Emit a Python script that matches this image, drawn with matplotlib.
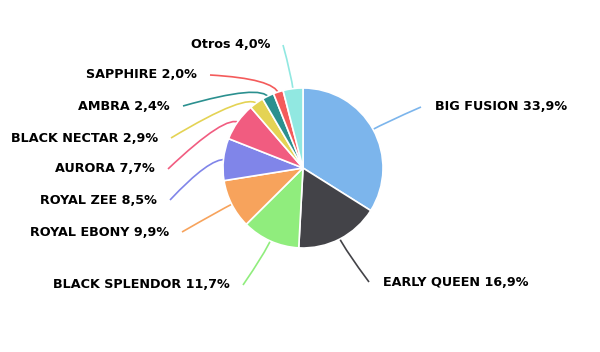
import numpy as np
import matplotlib.pyplot as plt
from matplotlib.path import Path
from matplotlib.patches import PathPatch

labels = ['BIG FUSION', 'EARLY QUEEN', 'BLACK SPLENDOR', 'ROYAL EBONY', 'ROYAL ZEE',
          'AURORA', 'BLACK NECTAR', 'AMBRA', 'SAPPHIRE', 'Otros']
values = [33.9, 16.9, 11.7, 9.9, 8.5, 7.7, 2.9, 2.4, 2.0, 4.0]
colors = ['#7cb5ec', '#434348', '#90ed7d', '#f7a35c', '#8085e9',
          '#f15c80', '#e4d354', '#2b908f', '#f45b5b', '#91e8e1']

# label anchors in pixel coords (x, y from top), side of pie
label_pos = [(435, 107, 'l'), (383, 282, 'l'), (230, 285, 'r'), (169, 232, 'r'),
             (157, 200, 'r'), (155, 169, 'r'), (158, 138, 'r'), (170, 106, 'r'),
             (197, 75, 'r'), (270, 45, 'r')]

W, H = 600, 352
fig = plt.figure(figsize=(6, 3.52), dpi=100)
ax = fig.add_axes([0, 0, 1, 1])
cx, cy, r = 303, H - 168, 80

wedges, _ = ax.pie(values, colors=colors, startangle=90, counterclock=False,
                   center=(cx, cy), radius=r,
                   wedgeprops=dict(edgecolor='white', linewidth=1.2))

for w, lab, v, (lx, ly, side), col in zip(wedges, labels, values, label_pos, colors):
    ang = np.deg2rad((w.theta1 + w.theta2) / 2)
    d = np.array([np.cos(ang), np.sin(ang)])
    edge = np.array([cx, cy]) + d * (r - 2)
    elbow = np.array([cx, cy]) + d * (r + 14)
    y = H - ly
    if side == 'l':
        start = np.array([lx - 14, y])
        ha = 'left'
    else:
        start = np.array([lx + 13, y])
        ha = 'right'
    p = Path([start, elbow, edge], [Path.MOVETO, Path.CURVE3, Path.CURVE3])
    ax.add_patch(PathPatch(p, fill=False, edgecolor=col, linewidth=1.2, zorder=0))
    txt = f'{lab} {v:.1f}%'.replace('.', ',')
    ax.text(lx, y, txt, ha=ha, va='center', fontsize=9.2, fontweight='bold',
            color='black', family='DejaVu Sans')

ax.set_xlim(0, W)
ax.set_ylim(0, H)
ax.set_aspect('equal')
ax.axis('off')
fig.savefig('out.png', dpi=100, facecolor='white')
